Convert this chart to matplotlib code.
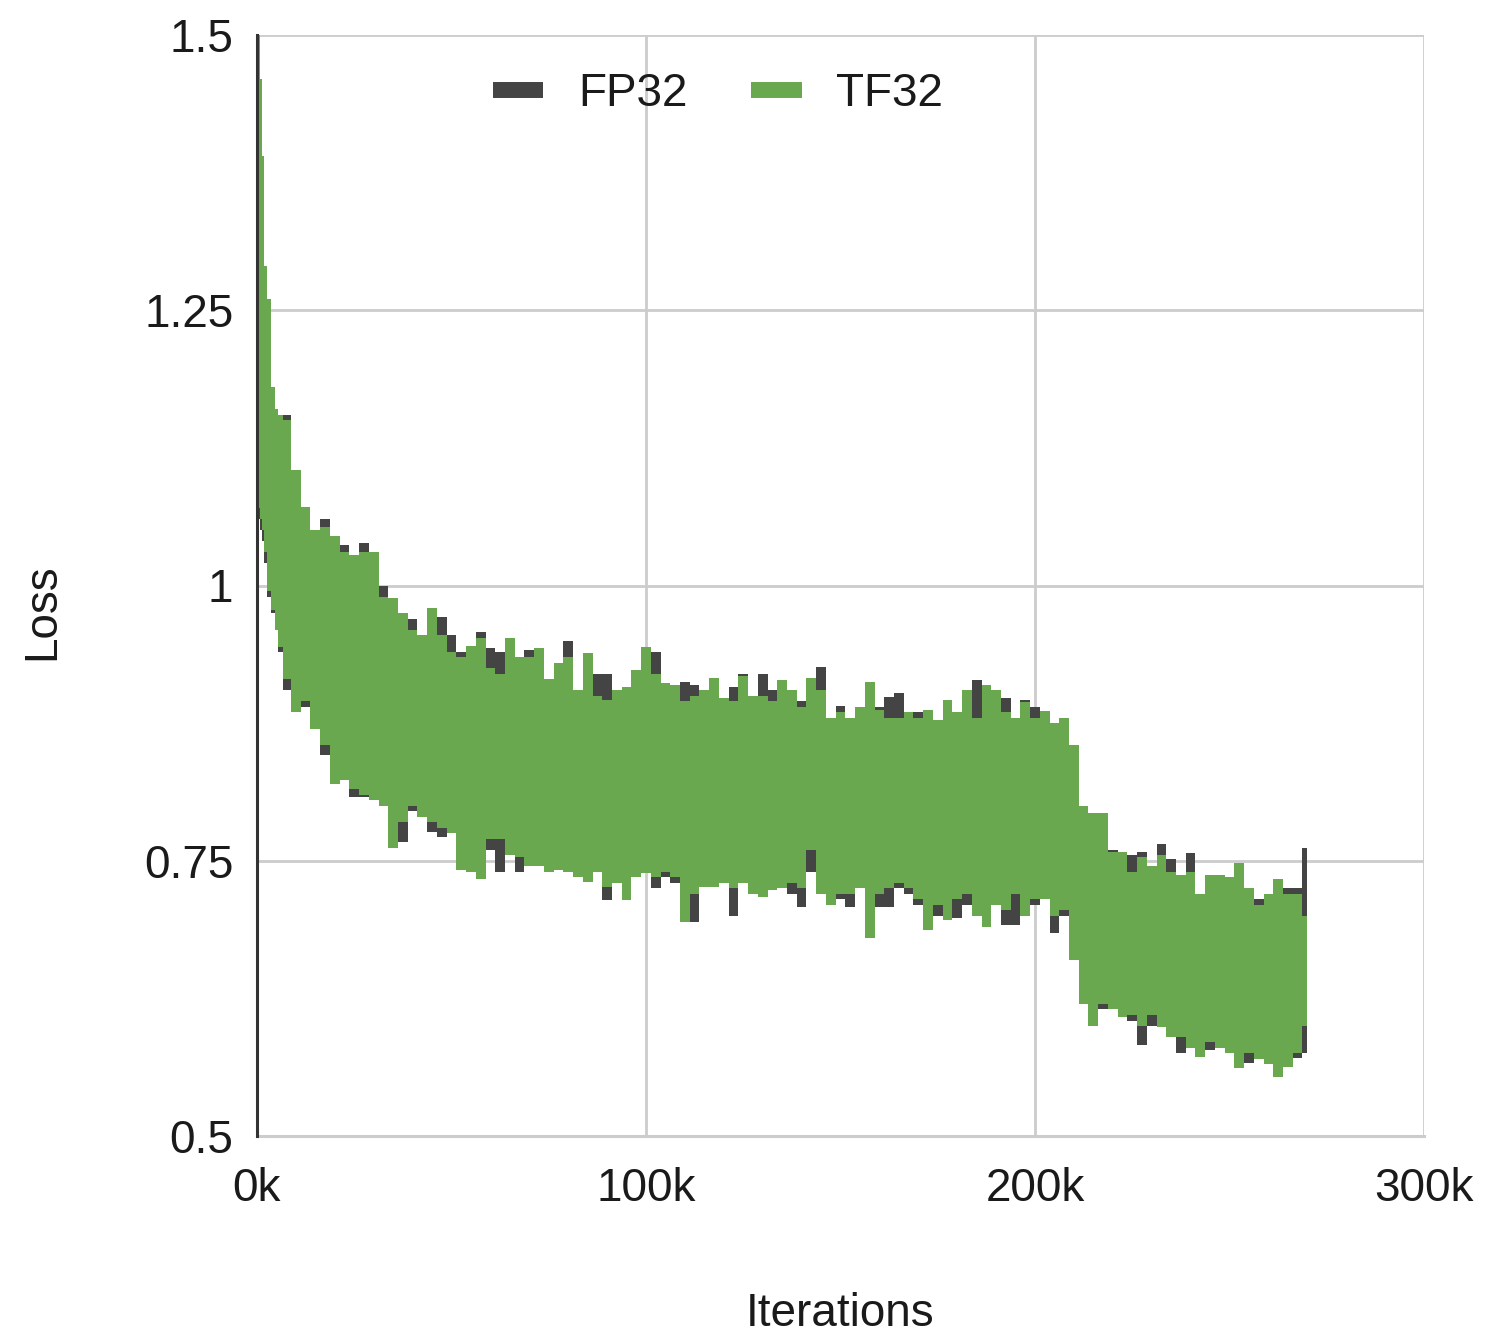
import matplotlib
matplotlib.use("Agg")
import matplotlib.pyplot as plt
from matplotlib.lines import Line2D

plt.rcParams['font.family'] = ['Liberation Sans', 'DejaVu Sans']

# iterations in thousands
iters = [0, 0.5, 1, 1.5, 2, 3, 4, 5, 6, 7.5,
         10, 12.5, 15, 17.5, 20, 22.5, 25, 27.5, 30, 32.5,
         35, 37.5, 40, 42.5, 45, 47.5, 50, 52.5, 55, 57.5,
         60, 62.5, 65, 67.5, 70, 72.5, 75, 77.5, 80, 82.5,
         85, 87.5, 90, 92.5, 95, 97.5, 100, 102.5, 105, 107.5,
         110, 112.5, 115, 117.5, 120, 122.5, 125, 127.5, 130, 132.5,
         135, 137.5, 140, 142.5, 145, 147.5, 150, 152.5, 155, 157.5,
         160, 162.5, 165, 167.5, 170, 172.5, 175, 177.5, 180, 182.5,
         185, 187.5, 190, 192.5, 195, 197.5, 200, 202.5, 205, 207.5,
         210, 212.5, 215, 217.5, 220, 222.5, 225, 227.5, 230, 232.5,
         235, 237.5, 240, 242.5, 245, 247.5, 250, 252.5, 255, 257.5,
         260, 262.5, 265, 267.5, 270]

tf32_hi = [1.50, 1.50, 1.46, 1.39, 1.29, 1.26, 1.18, 1.16, 1.155, 1.15,
           1.105, 1.071, 1.05, 1.053, 1.045, 1.03, 1.028, 1.03, 1.03, 0.99,
           0.989, 0.975, 0.96, 0.955, 0.98, 0.955, 0.94, 0.935, 0.945, 0.952,
           0.925, 0.92, 0.952, 0.935, 0.935, 0.943, 0.915, 0.93, 0.935, 0.905,
           0.939, 0.90, 0.896, 0.905, 0.908, 0.923, 0.944, 0.92, 0.911, 0.91,
           0.895, 0.90, 0.905, 0.916, 0.898, 0.895, 0.918, 0.90, 0.90, 0.895,
           0.914, 0.905, 0.89, 0.916, 0.905, 0.88, 0.885, 0.88, 0.89, 0.912,
           0.887, 0.88, 0.88, 0.885, 0.88, 0.887, 0.878, 0.896, 0.885, 0.905,
           0.88, 0.91, 0.905, 0.885, 0.88, 0.894, 0.88, 0.886, 0.875, 0.88,
           0.855, 0.80, 0.793, 0.793, 0.758, 0.758, 0.74, 0.753, 0.745, 0.755,
           0.74, 0.737, 0.74, 0.72, 0.737, 0.737, 0.735, 0.748, 0.725, 0.71,
           0.72, 0.733, 0.72, 0.72, 0.70]

tf32_lo = [1.10, 1.07, 1.06, 1.05, 1.03, 0.995, 0.978, 0.96, 0.944, 0.915,
           0.885, 0.895, 0.87, 0.855, 0.82, 0.823, 0.815, 0.81, 0.805, 0.80,
           0.762, 0.785, 0.80, 0.79, 0.785, 0.78, 0.775, 0.742, 0.74, 0.733,
           0.77, 0.77, 0.755, 0.753, 0.745, 0.745, 0.74, 0.742, 0.74, 0.735,
           0.731, 0.74, 0.726, 0.73, 0.714, 0.735, 0.739, 0.735, 0.74, 0.735,
           0.694, 0.72, 0.726, 0.726, 0.73, 0.725, 0.73, 0.72, 0.717, 0.723,
           0.725, 0.73, 0.725, 0.76, 0.72, 0.71, 0.72, 0.72, 0.725, 0.68,
           0.72, 0.725, 0.73, 0.725, 0.715, 0.687, 0.71, 0.696, 0.715, 0.72,
           0.70, 0.69, 0.71, 0.705, 0.72, 0.70, 0.715, 0.715, 0.70, 0.705,
           0.66, 0.62, 0.60, 0.62, 0.615, 0.608, 0.61, 0.60, 0.61, 0.599,
           0.59, 0.59, 0.58, 0.572, 0.585, 0.58, 0.575, 0.562, 0.575, 0.57,
           0.565, 0.554, 0.563, 0.575, 0.60]

fp32_hi = [1.50, 1.49, 1.45, 1.38, 1.28, 1.25, 1.17, 1.155, 1.155, 1.155,
           1.10, 1.07, 1.05, 1.06, 1.03, 1.037, 1.02, 1.039, 1.00, 1.00,
           0.98, 0.973, 0.97, 0.95, 0.96, 0.971, 0.955, 0.94, 0.94, 0.958,
           0.943, 0.94, 0.935, 0.93, 0.941, 0.93, 0.914, 0.925, 0.95, 0.90,
           0.93, 0.92, 0.92, 0.90, 0.90, 0.91, 0.93, 0.94, 0.905, 0.905,
           0.912, 0.91, 0.90, 0.905, 0.895, 0.908, 0.92, 0.895, 0.92, 0.905,
           0.905, 0.90, 0.895, 0.905, 0.926, 0.88, 0.891, 0.875, 0.88, 0.90,
           0.89, 0.899, 0.902, 0.88, 0.885, 0.88, 0.875, 0.885, 0.88, 0.895,
           0.914, 0.87, 0.89, 0.898, 0.875, 0.896, 0.89, 0.875, 0.87, 0.875,
           0.85, 0.80, 0.79, 0.76, 0.76, 0.755, 0.755, 0.758, 0.745, 0.765,
           0.752, 0.735, 0.757, 0.715, 0.73, 0.735, 0.73, 0.74, 0.72, 0.715,
           0.715, 0.725, 0.725, 0.725, 0.762]

fp32_lo = [1.08, 1.06, 1.05, 1.04, 1.02, 0.99, 0.975, 0.96, 0.94, 0.905,
           0.89, 0.89, 0.87, 0.846, 0.83, 0.825, 0.808, 0.808, 0.81, 0.80,
           0.79, 0.767, 0.795, 0.79, 0.776, 0.772, 0.78, 0.755, 0.755, 0.745,
           0.76, 0.74, 0.76, 0.74, 0.75, 0.748, 0.745, 0.745, 0.745, 0.74,
           0.735, 0.745, 0.714, 0.735, 0.72, 0.74, 0.74, 0.725, 0.735, 0.73,
           0.73, 0.694, 0.73, 0.73, 0.735, 0.70, 0.735, 0.725, 0.72, 0.725,
           0.73, 0.72, 0.708, 0.74, 0.725, 0.713, 0.715, 0.708, 0.73, 0.72,
           0.708, 0.708, 0.725, 0.72, 0.71, 0.715, 0.70, 0.71, 0.698, 0.71,
           0.71, 0.715, 0.72, 0.692, 0.692, 0.715, 0.71, 0.72, 0.684, 0.70,
           0.67, 0.625, 0.605, 0.615, 0.62, 0.61, 0.604, 0.583, 0.60, 0.605,
           0.595, 0.575, 0.585, 0.58, 0.578, 0.58, 0.58, 0.57, 0.566, 0.575,
           0.57, 0.565, 0.57, 0.571, 0.575]

series_names = ["FP32", "TF32"]
series_colors = ["#444444", "#6aa84f"]

x_ticks = [0, 100, 200, 300]
x_tick_labels = ["0k", "100k", "200k", "300k"]
y_ticks = [0.5, 0.75, 1.0, 1.25, 1.5]
y_tick_labels = ["0.5", "0.75", "1", "1.25", "1.5"]

W, H = 1487, 1338
fig = plt.figure(figsize=(W / 100, H / 100), dpi=100)
ax = fig.add_axes([257 / W, 1 - 1136 / H, (1424 - 257) / W, (1136 - 35) / H])

ax.fill_between(iters, fp32_lo, fp32_hi, step="mid", color=series_colors[0],
                linewidth=0, zorder=2)
ax.fill_between(iters, tf32_lo, tf32_hi, step="mid", color=series_colors[1],
                linewidth=0, zorder=3)

ax.set_xlim(0, 300)
ax.set_ylim(0.5, 1.5)
ax.set_xticks(x_ticks)
ax.set_xticklabels(x_tick_labels)
ax.set_yticks(y_ticks)
ax.set_yticklabels(y_tick_labels)
ax.tick_params(axis="both", length=0, labelsize=33, colors="#1a1a1a")
ax.tick_params(axis="x", pad=22)
ax.tick_params(axis="y", pad=17)
ax.grid(True, color="#cccccc", linewidth=2.0, zorder=0)
ax.set_axisbelow(True)

for s in ["top", "right"]:
    ax.spines[s].set_visible(False)
ax.spines["bottom"].set_color("#cccccc")
ax.spines["bottom"].set_linewidth(2.2)
ax.spines["left"].set_color("#333333")
ax.spines["left"].set_linewidth(2.2)
ax.spines["left"].set_zorder(4)

fig.text(840 / W, 1 - 1314 / H, "Iterations", fontsize=33, color="#1a1a1a",
         ha="center", va="center")
fig.text(42 / W, 1 - 612 / H, "Loss", fontsize=33, color="#1a1a1a",
         ha="center", va="center", rotation=90)

handles = [Line2D([0], [0], color=c, lw=11.5, solid_capstyle="butt") for c in series_colors]
ax.legend(handles, series_names, loc="center", bbox_to_anchor=(0.395, 0.946),
          ncol=2, frameon=False, fontsize=33, handlelength=1.1,
          handletextpad=0.75, columnspacing=1.4, labelcolor="#1a1a1a")

fig.savefig("out.png", dpi=100)
